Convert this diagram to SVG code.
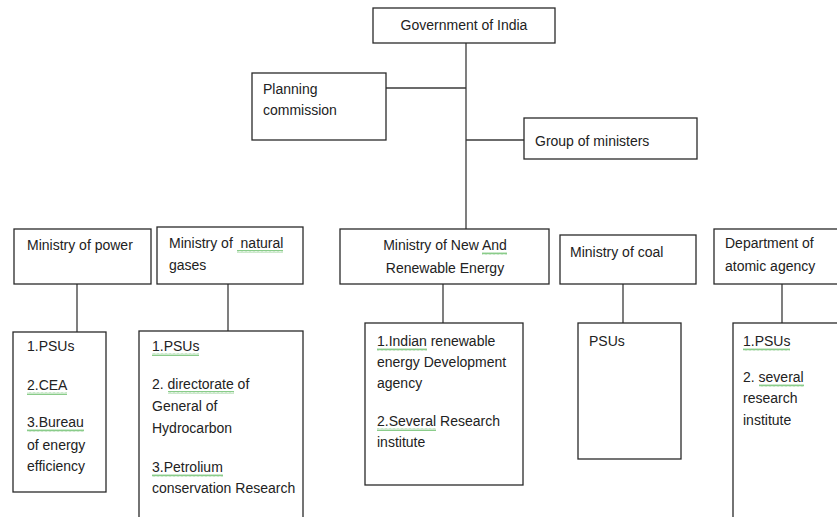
<svg xmlns="http://www.w3.org/2000/svg" width="837" height="517" viewBox="0 0 837 517">
<defs>
<pattern id="sq" x="0" y="0" width="4" height="3" patternUnits="userSpaceOnUse">
<path d="M0,2.5 L1,0.5 L2,2.5 L3,0.5 L4,2.5" fill="none" stroke="#6cbf6c" stroke-width="0.8"/>
</pattern>
</defs>
<style>
.box{fill:#fff;stroke:#2a2a2a;stroke-width:1.3}
.ln{fill:none;stroke:#3a3a3a;stroke-width:1.3}
text{font-family:"Liberation Sans",Arial,sans-serif;font-size:14px;fill:#222}
.c{text-anchor:middle}
.sq{fill:url(#sq)}
</style>
<rect width="837" height="517" fill="#fff"/>
<g id="connectors">
<path class="ln" d="M466,43 V229"/>
<path class="ln" d="M386,88 H466"/>
<path class="ln" d="M466,140 H524"/>
<path class="ln" d="M77,284 V332"/>
<path class="ln" d="M228,284 V331"/>
<path class="ln" d="M443,284 V323"/>
<path class="ln" d="M623,284 V323"/>
<path class="ln" d="M782,284 V323"/>
</g>
<g id="gov">
<rect class="box" x="373" y="8" width="182" height="35"/>
<text class="c" x="464" y="30">Government of India</text>
</g>
<g id="planning">
<rect class="box" x="252" y="73" width="134" height="67"/>
<text x="263" y="94">Planning</text>
<text x="263" y="115">commission</text>
</g>
<g id="gom">
<rect class="box" x="524" y="118" width="173" height="41"/>
<text x="535" y="146">Group of ministers</text>
</g>
<g id="power">
<rect class="box" x="14" y="229" width="137" height="55"/>
<text x="27" y="250">Ministry of power</text>
</g>
<g id="gases">
<rect class="box" x="157" y="227" width="146" height="57"/>
<text x="169" y="248">Ministry of&#160; natural</text>
<text x="169" y="270">gases</text>
<rect class="sq" x="237" y="250" width="46" height="3"/>
</g>
<g id="mnre">
<rect class="box" x="340" y="229" width="209" height="55"/>
<text class="c" x="445" y="250">Ministry of New And</text>
<text class="c" x="445" y="273">Renewable Energy</text>
<rect class="sq" x="482" y="252" width="25" height="3"/>
</g>
<g id="coal">
<rect class="box" x="560" y="235" width="136" height="49"/>
<text x="570" y="257">Ministry of coal</text>
</g>
<g id="atomic">
<rect class="box" x="714" y="229" width="130" height="55"/>
<text x="725" y="248">Department of</text>
<text x="725" y="271">atomic agency</text>
</g>
<g id="power-sub">
<rect class="box" x="13" y="332" width="93" height="160"/>
<text x="27" y="351">1.PSUs</text>
<text x="27" y="390">2.CEA</text>
<rect class="sq" x="27" y="392" width="40" height="3"/>
<text x="27" y="427">3.Bureau</text>
<rect class="sq" x="27" y="429" width="57" height="3"/>
<text x="27" y="450">of energy</text>
<text x="27" y="471">efficiency</text>
</g>
<g id="gases-sub">
<rect class="box" x="139" y="331" width="164" height="200"/>
<text x="152" y="351">1.PSUs</text>
<rect class="sq" x="152" y="353" width="47" height="3"/>
<text x="152" y="389">2. directorate of</text>
<rect class="sq" x="168" y="391" width="66" height="3"/>
<text x="152" y="411">General of</text>
<text x="152" y="433">Hydrocarbon</text>
<text x="152" y="472">3.Petrolium</text>
<rect class="sq" x="152" y="474" width="71" height="3"/>
<text x="152" y="493">conservation Research</text>
</g>
<g id="mnre-sub">
<rect class="box" x="365" y="323" width="158" height="162"/>
<text x="377" y="346">1.Indian renewable</text>
<rect class="sq" x="377" y="348" width="50" height="3"/>
<text x="377" y="367">energy Development</text>
<text x="377" y="388">agency</text>
<text x="377" y="426">2.Several Research</text>
<rect class="sq" x="377" y="428" width="59" height="3"/>
<text x="377" y="447">institute</text>
</g>
<g id="coal-sub">
<rect class="box" x="578" y="323" width="103" height="136"/>
<text x="589" y="346">PSUs</text>
</g>
<g id="atomic-sub">
<rect class="box" x="733" y="323" width="120" height="210"/>
<text x="743" y="346">1.PSUs</text>
<rect class="sq" x="743" y="348" width="47" height="3"/>
<text x="743" y="382">2. several</text>
<rect class="sq" x="759" y="384" width="45" height="3"/>
<text x="743" y="403">research</text>
<text x="743" y="425">institute</text>
</g>
</svg>
